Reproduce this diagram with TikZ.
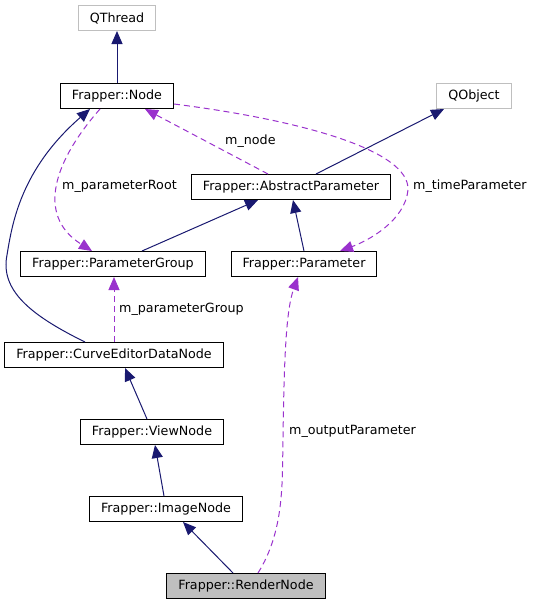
\documentclass[tikz,border=0pt]{standalone}
\usepackage{fontspec}
\setmainfont{DejaVu Sans}
\usepackage{tikz}
\usetikzlibrary{arrows.meta,positioning,calc}
\definecolor{inheritblue}{HTML}{191970}
\definecolor{usagepurple}{HTML}{9A32CD}
\definecolor{extgray}{HTML}{BFBFBF}

\begin{document}
\begin{tikzpicture}[x=1pt,y=-1pt,>={Triangle[length=13pt,width=11pt]},
    class node/.style={rectangle,draw=black,line width=1pt,
    font=\fontsize{12.7}{15}\selectfont,minimum height=25pt,inner xsep=11.5pt,inner ysep=0pt},
    ext node/.style={class node,draw=extgray},
    inherit/.style={->,inheritblue,line width=1pt},
    usage/.style={->,usagepurple,line width=1pt,dash pattern=on 6pt off 4pt},
    label node/.style={font=\fontsize{12.7}{15}\selectfont,anchor=west,inner sep=0pt}]

    \useasboundingbox (0,0) rectangle (536,605);

    \node[ext node] (QThread) at (117,18) {QThread};
    \node[class node] (Node) at (117,96) {Frapper::Node};

    \node[ext node] (QObject) at (474,96) {QObject};
    \node[class node] (AbstractParameter) at (291,187) {Frapper::AbstractParameter};

    \node[class node] (ParameterGroup) at (113,264) {Frapper::ParameterGroup};
    \node[class node] (Parameter) at (304,264) {Frapper::Parameter};

    \node[class node] (CurveEditorDataNode) at (114,355) {Frapper::CurveEditorDataNode};

    \node[class node] (ViewNode) at (152,432) {Frapper::ViewNode};

    \node[class node] (ImageNode) at (166,509) {Frapper::ImageNode};

    \node[class node, fill=extgray] (RenderNode) at (246,586) {Frapper::RenderNode};

    \node[label node] (ParameterRootLabel) at (62,186) {m\_parameterRoot};
    \node[label node] (NodeLabel) at (225,141) {m\_node};
    \node[label node] (TimeParameterLabel) at (413,186) {m\_timeParameter};
    \node[label node] (ParameterGroupLabel) at (119,309) {m\_parameterGroup};
    \node[label node] (OutputParameterLabel) at (289,431) {m\_outputParameter};

    % inheritance
    \path (Node) edge [inherit] (QThread)
        ([xshift=25pt]AbstractParameter.north) edge [inherit] ([xshift=-30pt]QObject.south)
        ([xshift=29pt]ParameterGroup.north) edge [inherit] ([xshift=-33pt]AbstractParameter.south)
        (Parameter.north) edge [inherit] ([xshift=2pt]AbstractParameter.south);

    \path ([xshift=-5pt]ViewNode.north) edge [inherit] ([xshift=11pt]CurveEditorDataNode.south)
        ([xshift=-2pt]ImageNode.north) edge [inherit] ([xshift=3pt]ViewNode.south)
        ([xshift=-13pt]RenderNode.north) edge [inherit] ([xshift=17pt]ImageNode.south);

    \draw [inherit] ([xshift=-29pt]CurveEditorDataNode.north)
        .. controls (30,315) and (0,290) .. (7,255)
        .. controls (12,225) and (20,170) .. ([xshift=-27pt]Node.south);

    % members
    \draw [usage] ([xshift=-17pt]Node.south)
        .. controls (55,160) and (35,215) .. ([xshift=-21pt]ParameterGroup.north);
    \draw [usage] ([xshift=-23pt]AbstractParameter.north) -- ([xshift=28pt]Node.south);
    \draw [usage] ([yshift=-8pt]Node.east)
        .. controls (300,120) and (410,150) .. (408,190)
        .. controls (405,220) and (370,240) .. ([xshift=36pt]Parameter.north);
    \draw [usage] (CurveEditorDataNode.north) -- (CurveEditorDataNode.north |- ParameterGroup.south);
    \draw [usage] ([xshift=12pt]RenderNode.north)
        .. controls (285,530) and (282,480) .. (283,440)
        .. controls (284,360) and (286,310) .. ([xshift=-6pt]Parameter.south);
  \end{tikzpicture}
\end{document}
